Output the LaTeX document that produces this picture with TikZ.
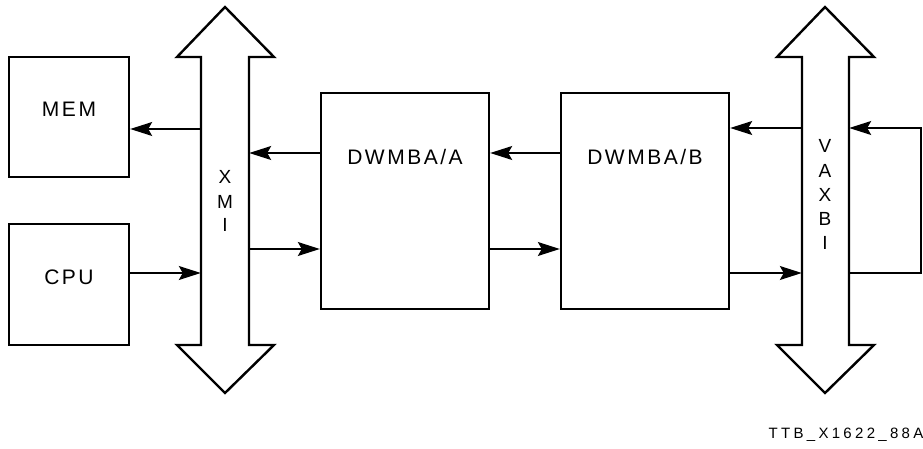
\documentclass[tikz,border=0pt]{standalone}
\usepackage{fontspec}
\setmainfont{Liberation Sans}
\newfontfamily\lblfont[LetterSpace=12]{Liberation Sans}
\newfontfamily\tagfont[LetterSpace=22]{Liberation Sans}
\usetikzlibrary{arrows.meta}
\begin{document}
\begin{tikzpicture}[x=1pt,y=-1pt,
  bx/.style={draw,line width=2.4pt,inner sep=0pt},
  bus/.style={draw,line width=2.4pt,line join=miter},
  busarea/.style={inner sep=0pt,minimum width=48pt,minimum height=288pt},
  arr/.style={line width=1.2pt,-{Stealth[length=22pt,width=14pt,inset=4pt]}},
  txt/.style={font=\fontsize{21}{23}\selectfont\lblfont,inner sep=0pt},
  vtxt/.style={font=\fontsize{19}{21}\selectfont,inner sep=0pt},
]
\useasboundingbox (0,0) rectangle (923,449);
% boxes
\node[bx,minimum width=120pt,minimum height=120pt] (mem) at (69,117) {};
\node[bx,minimum width=120pt,minimum height=121pt] (cpu) at (69,284.5) {};
\node[bx,minimum width=168pt,minimum height=216pt] (dwa) at (405,201) {};
\node[bx,minimum width=168pt,minimum height=216pt] (dwb) at (645,201) {};
\node[txt] (memt) at (69,109) {MEM};
\node[txt] (cput) at (69,277) {CPU};
\node[txt] (dwat) at (405,157) {DWMBA/A};
\node[txt] (dwbt) at (645,157) {DWMBA/B};
% buses
\draw[bus] (225,7) -- (274,57) -- (249,57) -- (249,345) -- (274,345) -- (225,393) -- (177,345) -- (201,345) -- (201,57) -- (177,57) -- cycle;
\draw[bus] (825,7) -- (874,57) -- (849,57) -- (849,345) -- (874,345) -- (825,393) -- (777,345) -- (802,345) -- (802,57) -- (777,57) -- cycle;
\node[busarea] (xmi) at (225,201) {};
\node[busarea,minimum width=47pt] (vax) at (825.5,201) {};
\node[vtxt] (x1) at (225,177) {X};
\node[vtxt] (x2) at (225,202) {M};
\node[vtxt] (x3) at (225,225) {I};
\node[vtxt] (v1) at (825,146) {V};
\node[vtxt] (v2) at (825,171) {A};
\node[vtxt] (v3) at (825,195) {X};
\node[vtxt] (v4) at (825,219) {B};
\node[vtxt] (v5) at (825,243) {I};
% connectors
\draw[arr] (xmi.west |- 0,129) -- (mem.east |- 0,129);
\draw[arr] (cpu.east |- 0,273) -- (xmi.west |- 0,273);
\draw[arr] (dwa.west |- 0,153) -- (xmi.east |- 0,153);
\draw[arr] (xmi.east |- 0,249) -- (dwa.west |- 0,249);
\draw[arr] (dwb.west |- 0,153) -- (dwa.east |- 0,153);
\draw[arr] (dwa.east |- 0,249) -- (dwb.west |- 0,249);
\draw[arr] (vax.west |- 0,128) -- (dwb.east |- 0,128);
\draw[arr] (dwb.east |- 0,273) -- (vax.west |- 0,273);
\coordinate (lb) at (921,273);
\coordinate (lt) at (921,128);
\draw[arr] (vax.east |- lb) -- (lb) -- (lt) -- (vax.east |- lt);
% tag
\node[font=\fontsize{15}{17}\selectfont\tagfont,inner sep=0pt] (tag) at (846,435) {TTB\_X1622\_88A};
\end{tikzpicture}
\end{document}
